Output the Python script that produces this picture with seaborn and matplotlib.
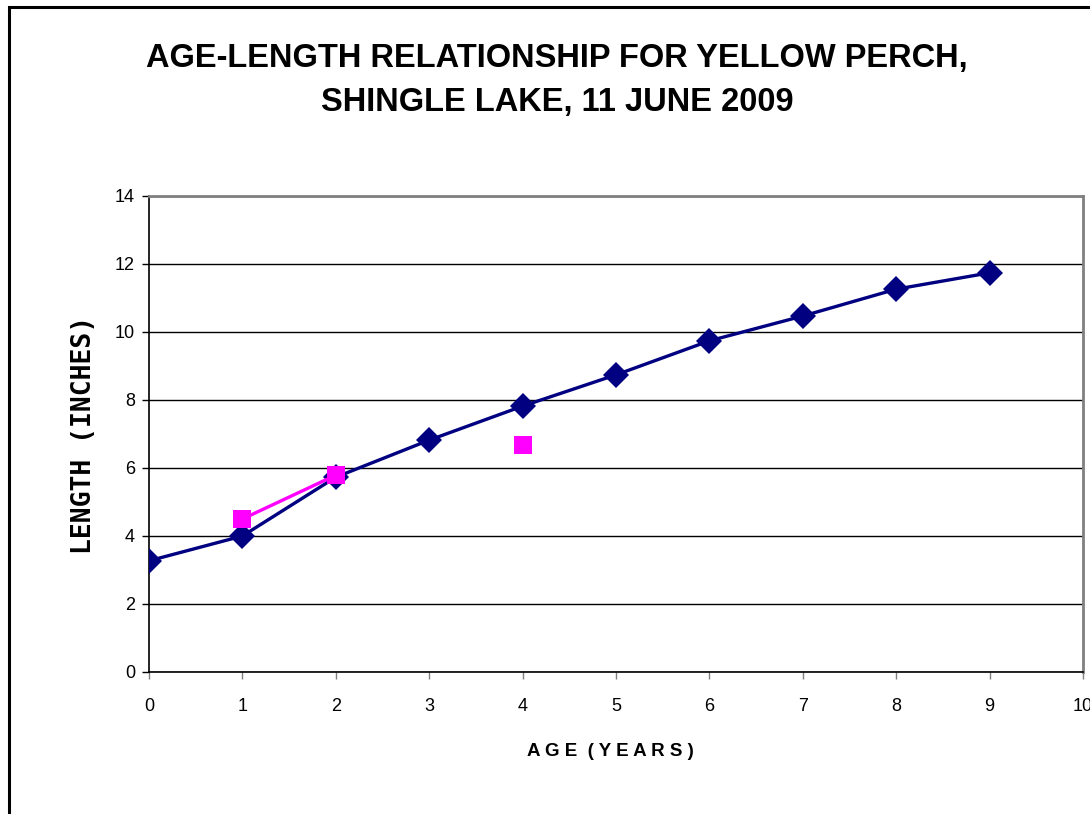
import matplotlib
matplotlib.use("Agg")
import matplotlib.pyplot as plt
import seaborn as sns
import numpy as np
import pandas as pd
from matplotlib.patches import Rectangle

# Mean length at age, yellow perch, Shingle Lake
ages = [0, 1, 2, 3, 4, 5, 6, 7, 8, 9]
standard_length = [3.27, 4.0, 5.73, 6.82, 7.82, 8.74, 9.74, 10.47, 11.26, 11.74]
shingle_ages = [1, 2, 3, 4]
shingle_length = [4.5, 5.79, np.nan, 6.68]

x_ticks = list(range(0, 11))
y_ticks = list(range(0, 15, 2))

sns.set_theme(style="white")
plt.rcParams["font.family"] = ["Liberation Sans", "DejaVu Sans"]
plt.rcParams["text.color"] = "black"
plt.rcParams["axes.labelcolor"] = "black"

W, H = 1090, 814
left_px, right_px, top_px, bottom_px = 149, 1083, 196, 672
fig = plt.figure(figsize=(W / 100, H / 100), dpi=100)
ax = fig.add_axes([left_px / W, 1 - bottom_px / H,
                   (right_px - left_px) / W, (bottom_px - top_px) / H])

ref = pd.DataFrame({"age": ages, "length": standard_length})
lake = pd.DataFrame({"age": shingle_ages, "length": shingle_length})

sns.lineplot(data=ref, x="age", y="length", ax=ax, color="#000080", lw=2.4,
             marker="D", markersize=13, markeredgewidth=0, zorder=3)
ax.plot(lake["age"], lake["length"], color="#FF00FF", lw=2.4,
        marker="s", markersize=13, markeredgewidth=0, zorder=4)

ax.set_xlim(0, 10)
ax.set_ylim(0, 14)
ax.set_xticks(x_ticks)
ax.set_yticks(y_ticks)
ax.tick_params(axis="both", labelsize=13, labelcolor="black", direction="out",
               length=5, width=1, color="#808080")
ax.tick_params(axis="x", bottom=True, pad=14)
ax.tick_params(axis="y", left=True, pad=5, color="black")

ax.yaxis.grid(True, color="black", lw=1)
ax.set_axisbelow(True)

for side in ["left", "bottom"]:
    ax.spines[side].set_color("black")
    ax.spines[side].set_linewidth(1.2)
for side in ["top", "right"]:
    ax.spines[side].set_color("#808080")
    ax.spines[side].set_linewidth(2)

pw, ph = right_px - left_px, bottom_px - top_px
ax.set_xlabel("A G E  ( Y E A R S )", fontsize=13.5, fontweight="bold", va="center")
ax.xaxis.set_label_coords((610 - left_px) / pw, -(752 - bottom_px) / ph)
ax.set_ylabel("LENGTH (INCHES)", fontsize=19, fontweight="heavy",
              family=["DejaVu Sans Mono", "DejaVu Sans"], va="center")
ax.yaxis.set_label_coords(-(left_px - 84) / pw, (bottom_px - 435) / ph)

fig.text(557 / W, 1 - 58 / H, "AGE-LENGTH RELATIONSHIP FOR YELLOW PERCH,",
         ha="center", va="center", fontsize=23.5, fontweight="bold")
fig.text(557 / W, 1 - 103 / H, "SHINGLE LAKE, 11 JUNE 2009",
         ha="center", va="center", fontsize=23.5, fontweight="bold")

# Chart frame
fig.patches.append(Rectangle((9 / W, -0.1), 1.2, 1 - 7 / H + 0.1,
                             transform=fig.transFigure, fill=False,
                             edgecolor="black", lw=2.2))

fig.savefig("out.png", dpi=100)
